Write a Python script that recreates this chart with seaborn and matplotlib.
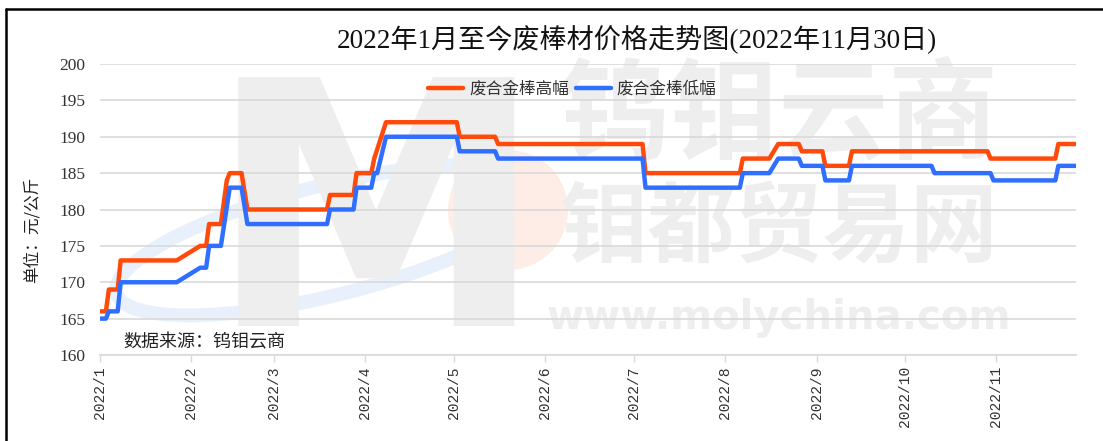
import matplotlib
matplotlib.use("Agg")
import matplotlib.pyplot as plt
import matplotlib.dates as mdates
from matplotlib.ticker import FuncFormatter
from matplotlib.patches import Ellipse, Circle
from matplotlib.lines import Line2D
from matplotlib import transforms
import seaborn as sns
import pandas as pd

# ---------------- data ----------------
title = "2022年1月至今废棒材价格走势图(2022年11月30日)"
series_names = ["废合金棒高幅", "废合金棒低幅"]

high_dates = ["2022-01-01", "2022-01-03", "2022-01-04", "2022-01-07", "2022-01-08",
              "2022-01-27", "2022-02-04", "2022-02-06", "2022-02-07", "2022-02-11",
              "2022-02-13", "2022-02-14", "2022-02-18", "2022-02-20", "2022-03-19",
              "2022-03-20", "2022-03-28", "2022-03-29", "2022-04-03", "2022-04-04",
              "2022-04-08", "2022-05-02", "2022-05-03", "2022-05-15", "2022-05-16",
              "2022-07-04", "2022-07-05", "2022-08-06", "2022-08-07", "2022-08-16",
              "2022-08-19", "2022-08-26", "2022-08-27", "2022-09-03", "2022-09-04",
              "2022-09-12", "2022-09-13", "2022-10-29", "2022-10-30", "2022-11-21",
              "2022-11-22", "2022-11-28"]
high_values = [166, 166, 169, 169, 173,
               173, 175, 175, 178, 178,
               184, 185, 185, 180, 180,
               182, 182, 185, 185, 187,
               192, 192, 190, 190, 189,
               189, 185, 185, 187, 187,
               189, 189, 188, 188, 186,
               186, 188, 188, 187, 187,
               189, 189]

low_dates = ["2022-01-01", "2022-01-03", "2022-01-04", "2022-01-07", "2022-01-08",
             "2022-01-27", "2022-02-04", "2022-02-06", "2022-02-07", "2022-02-11",
             "2022-02-14", "2022-02-18", "2022-02-20", "2022-03-19", "2022-03-20",
             "2022-03-28", "2022-03-29", "2022-04-03", "2022-04-04", "2022-04-05",
             "2022-04-08", "2022-05-02", "2022-05-03", "2022-05-15", "2022-05-16",
             "2022-07-04", "2022-07-05", "2022-08-06", "2022-08-07", "2022-08-16",
             "2022-08-19", "2022-08-26", "2022-08-27", "2022-09-03", "2022-09-04",
             "2022-09-12", "2022-09-13", "2022-10-10", "2022-10-11", "2022-10-30",
             "2022-10-31", "2022-11-21", "2022-11-22", "2022-11-28"]
low_values = [165, 165, 166, 166, 170,
              170, 172, 172, 175, 175,
              183, 183, 178, 178, 180,
              180, 183, 183, 185, 185,
              190, 190, 188, 188, 187,
              187, 183, 183, 185, 185,
              187, 187, 186, 186, 184,
              184, 186, 186, 185, 185,
              184, 184, 186, 186]

y_ticks = [160, 165, 170, 175, 180, 185, 190, 195, 200]
x_tick_months = ["2022-01-01", "2022-02-01", "2022-03-01", "2022-04-01", "2022-05-01",
                 "2022-06-01", "2022-07-01", "2022-08-01", "2022-09-01", "2022-10-01",
                 "2022-11-01"]
ylabel = "单位：元/公斤"
source = "数据来源：钨钼云商"

# ---------------- frame ----------------
df = pd.concat([
    pd.DataFrame({"date": pd.to_datetime(high_dates), "price": high_values, "series": series_names[0]}),
    pd.DataFrame({"date": pd.to_datetime(low_dates), "price": low_values, "series": series_names[1]}),
], ignore_index=True)

sns.set_style("white")
plt.rcParams["font.family"] = ["Liberation Serif", "Noto Sans CJK SC", "DejaVu Sans"]

W, H = 1103, 441
fig = plt.figure(figsize=(W / 100, H / 100), dpi=100)
ax = fig.add_axes([100 / W, 1 - 355 / H, 976 / W, 291 / H])

ident = transforms.IdentityTransform()

def px(x, y):
    return (x, H - y)

# watermark (faint background decoration)
wm = "#eeeeee"
ax.add_patch(Ellipse(px(330, 240), 440, 110, angle=14, fill=False, ec="#e8f1fb", lw=10,
                     transform=ident, zorder=0.1))
ax.add_patch(Circle(px(508, 210), 60, fc="#fdede6", ec="none", transform=ident, zorder=0.1))
ax.text(*px(376, 232), "M", transform=ident, fontsize=245, fontweight="bold", color=wm,
        family="DejaVu Sans", ha="center", va="center", zorder=0.15)
ax.text(*px(779, 118), "钨钼云商", transform=ident, fontsize=79, fontweight="bold", color=wm,
        family="Noto Sans CJK SC", ha="center", va="center", zorder=0.15)
ax.text(*px(779, 230), "钼都贸易网", transform=ident, fontsize=63, fontweight="bold", color=wm,
        family="Noto Sans CJK SC", ha="center", va="center", zorder=0.15)
ax.text(*px(779, 318), "www.molychina.com", transform=ident, fontsize=29, fontweight="bold",
        color=wm, family="DejaVu Sans", ha="center", va="center", zorder=0.15)

palette = {series_names[0]: "#FF4A0A", series_names[1]: "#2F6EFF"}
sns.lineplot(data=df, x="date", y="price", hue="series", hue_order=series_names,
             palette=palette, linewidth=3.2, ax=ax, zorder=3, legend=True)

ax.set_ylim(160, 200)
ax.set_yticks(y_ticks)
ax.set_xlim(pd.Timestamp("2022-01-01"), pd.Timestamp("2022-11-28"))
ax.set_xticks(pd.to_datetime(x_tick_months))
ax.xaxis.set_major_formatter(FuncFormatter(
    lambda v, p: f"{mdates.num2date(v).year}/{mdates.num2date(v).month}"))

ax.grid(axis="y", color="#d9d9d9", linewidth=1.2)
ax.grid(axis="x", visible=False)
ax.set_axisbelow(True)
for s in ["top", "right", "left"]:
    ax.spines[s].set_visible(False)
ax.spines["bottom"].set_color("#d9d9d9")
ax.spines["bottom"].set_linewidth(1.2)

ax.tick_params(axis="x", which="major", bottom=True, length=5, width=1, color="#d9d9d9",
               pad=3, rotation=90)
ax.tick_params(axis="y", left=False, pad=7)
for lab in ax.get_xticklabels():
    lab.set_family("Liberation Mono")
    lab.set_fontsize(10.5)
    lab.set_color("#333333")
for lab in ax.get_yticklabels():
    lab.set_fontsize(12.5)
    lab.set_color("#333333")

ax.set_xlabel("")
ax.set_ylabel(ylabel, fontsize=12, family=["Noto Sans CJK SC"], color="#222222")
ax.yaxis.set_label_coords((41 - 100) / 976, (355 - 230) / 291)

leg = ax.legend(loc="upper center", bbox_to_anchor=(0.484, 0.995), ncol=2, frameon=False,
                handlelength=2.1, columnspacing=0.4, handletextpad=0.35,
                prop={"family": "Noto Sans CJK SC", "size": 12})
for h in leg.get_lines():
    h.set_linewidth(3.2)
for t in leg.get_texts():
    t.set_color("#333333")

fig.text(637 / W, 1 - 40 / H, title, ha="center", va="center", fontsize=19.5, color="#111111")
ax.text(*px(123, 342), source, transform=ident, ha="left", va="center", fontsize=13,
        family=["Noto Sans CJK SC"], color="#222222", zorder=4)

# outer black frame (top and left edges visible)
fig.add_artist(Line2D([6 / W, 1.01], [1 - 9 / H, 1 - 9 / H], transform=fig.transFigure,
                      color="black", lw=1.8))
fig.add_artist(Line2D([6 / W, 6 / W], [1 - 9 / H, -0.01], transform=fig.transFigure,
                      color="black", lw=1.8))

fig.savefig("out.png", dpi=100)
